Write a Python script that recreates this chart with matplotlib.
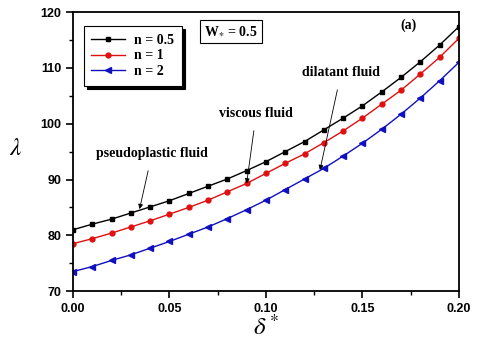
import matplotlib
matplotlib.use("Agg")
import matplotlib.pyplot as plt
import numpy as np

plt.rcParams['mathtext.fontset'] = 'stix'

# delta* values and lambda for each flow index n
delta = [0.00, 0.01, 0.02, 0.03, 0.04, 0.05, 0.06, 0.07, 0.08, 0.09, 0.10,
         0.11, 0.12, 0.13, 0.14, 0.15, 0.16, 0.17, 0.18, 0.19, 0.20]
lam_n05 = [81.0, 82.0, 82.9, 84.0, 85.1, 86.2, 87.5, 88.8, 90.1, 91.6, 93.2,
           95.0, 96.8, 98.9, 101.0, 103.2, 105.7, 108.3, 111.1, 114.1, 117.4]
lam_n1 = [78.5, 79.4, 80.4, 81.5, 82.6, 83.8, 85.0, 86.3, 87.8, 89.3, 91.1,
          92.9, 94.6, 96.6, 98.7, 101.0, 103.5, 106.0, 108.9, 111.9, 115.3]
lam_n2 = [73.5, 74.4, 75.5, 76.5, 77.7, 78.9, 80.2, 81.5, 83.0, 84.6, 86.3,
          88.2, 90.1, 92.0, 94.2, 96.5, 99.0, 101.7, 104.6, 107.7, 111.0]
labels = ['n = 0.5', 'n = 1', 'n = 2']

x_ticks = [0.00, 0.05, 0.10, 0.15, 0.20]
y_ticks = [70, 80, 90, 100, 110, 120]

serif = 'Liberation Serif'
sans = 'Liberation Sans'

fig = plt.figure(figsize=(4.8, 3.47), dpi=100)
ax = fig.add_axes([0.152, 0.161, 0.804, 0.804])

ax.plot(delta, lam_n05, color='black', marker='s', ms=3.5, lw=1.0, label=labels[0])
ax.plot(delta, lam_n1, color='#e01010', marker='o', ms=3.5, lw=1.0, label=labels[1])
ax.plot(delta, lam_n2, color='#1010c0', marker='<', ms=4, lw=1.0, label=labels[2])

ax.set_xlim(0, 0.20)
ax.set_ylim(70, 120)
ax.set_xticks(x_ticks)
ax.set_yticks(y_ticks)
ax.set_xticks([0.025, 0.075, 0.125, 0.175], minor=True)
ax.set_yticks([75, 85, 95, 105, 115], minor=True)
ax.set_xticklabels(['%.2f' % v for v in x_ticks], fontfamily=sans, fontweight='bold', fontsize=9)
ax.set_yticklabels([str(v) for v in y_ticks], fontfamily=sans, fontweight='bold', fontsize=9)
ax.tick_params(which='major', direction='out', length=5, width=1.2)
ax.tick_params(which='minor', direction='out', length=3, width=1.0)
for s in ax.spines.values():
    s.set_linewidth(1.3)

ax.set_xlabel(r'$\delta^*$', fontsize=18, labelpad=0)
ax.set_ylabel(r'$\lambda$', fontsize=18, rotation=0)
ax.yaxis.set_label_coords(-0.15, 0.47)

leg = ax.legend(loc='upper left', bbox_to_anchor=(0.01, 0.975), frameon=True,
                fancybox=False, shadow={'color': 'black', 'alpha': 1},
                prop={'family': serif, 'weight': 'bold', 'size': 10},
                handlelength=2.4, labelspacing=0.2, borderpad=0.55, handletextpad=0.7)
leg.get_frame().set_edgecolor('black')
leg.get_frame().set_linewidth(0.8)

ax.text(0.34, 0.93, r'W$_{\ast}$ = 0.5', transform=ax.transAxes, family=serif,
        fontweight='bold', fontsize=10, va='center', ha='left',
        bbox=dict(boxstyle='square,pad=0.3', fc='white', ec='black', lw=0.8))
ax.text(0.87, 0.953, '(a)', transform=ax.transAxes, family=serif,
        fontweight='bold', fontsize=10, ha='center', va='center')

akw = dict(arrowstyle='-|>', color='black', lw=0.6, mutation_scale=7)
ax.annotate('pseudoplastic fluid', xy=(delta[3] + 0.0045, lam_n05[3] + 0.7),
            xytext=(0.041, 94.7), textcoords='data', ha='center', va='center',
            family=serif, fontweight='bold', fontsize=10,
            arrowprops=dict(akw, shrinkA=6, shrinkB=0))
ax.annotate('viscous fluid', xy=(delta[9], lam_n1[9]), xytext=(0.095, 101.9),
            ha='center', va='center', family=serif, fontweight='bold', fontsize=10,
            arrowprops=dict(akw, shrinkA=6, shrinkB=0))
ax.annotate('dilatant fluid', xy=(0.128, lam_n2[13] - 0.3), xytext=(0.139, 109.2),
            ha='center', va='center', family=serif, fontweight='bold', fontsize=10,
            arrowprops=dict(akw, shrinkA=6, shrinkB=0))

fig.savefig('out.png', dpi=100)
